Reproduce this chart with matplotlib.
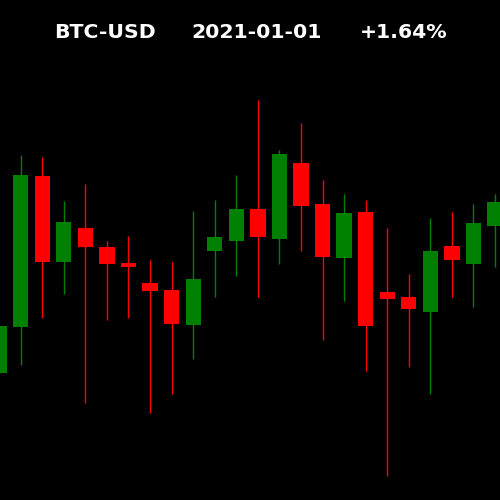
import matplotlib
matplotlib.use("Agg")
import matplotlib.pyplot as plt
import numpy as np

ticker = "BTC-USD"
date_label = "2021-01-01"
change_label = "+1.64%"

opens  = [29270, 29730, 31240, 30380, 30720, 30530, 30370, 30170, 30100, 29750, 30490, 30590,
          30910, 30610, 31370, 30960, 30420, 30880, 30080, 30030, 29880, 30540, 30360, 30740]
highs  = [29740, 31450, 31430, 30990, 31160, 30590, 30640, 30400, 30380, 30890, 31000, 31250,
          32000, 31500, 31770, 31200, 31060, 31000, 30720, 30260, 30820, 30880, 30960, 31060]
lows   = [29270, 29350, 29820, 30060, 28970, 29800, 29820, 28870, 29060, 29410, 30030, 30240,
          30030, 30360, 30490, 29600, 29990, 29290, 28240, 29330, 29060, 30030, 29930, 30330]
closes = [29740, 31250, 30380, 30780, 30530, 30360, 30330, 30090, 29760, 30210, 30630, 30910,
          30630, 31460, 30940, 30430, 30870, 29740, 30010, 29910, 30490, 30400, 30770, 30980]

up_color = "#008000"
down_color = "#ff0000"

fig = plt.figure(figsize=(5, 5), dpi=100, facecolor="black")
ax = fig.add_axes([0, 0, 1, 1], facecolor="black")

x = np.arange(len(opens))
o = np.array(opens); c = np.array(closes); h = np.array(highs); l = np.array(lows)
colors = [up_color if cc >= oo else down_color for oo, cc in zip(o, c)]

ax.vlines(x, l, h, colors=colors, linewidth=1.0, zorder=1)
bottoms = np.minimum(o, c)
heights = np.maximum(np.abs(c - o), 1)
ax.bar(x, heights, bottom=bottoms, width=0.71, color=colors, edgecolor=colors, linewidth=0, zorder=2)

ax.set_xlim(0.042, 23.23)
ax.set_ylim(28000, 33000)
ax.axis("off")

kw = dict(color="white", fontsize=14.7, fontweight="bold", ha="center", va="center", family="DejaVu Sans")
fig.text(105 / 500, 1 - 32 / 500, ticker, **kw)
fig.text(257 / 500, 1 - 32 / 500, date_label, **kw)
fig.text(404 / 500, 1 - 32 / 500, change_label, **kw)

fig.savefig("out.png", dpi=100, facecolor="black")
